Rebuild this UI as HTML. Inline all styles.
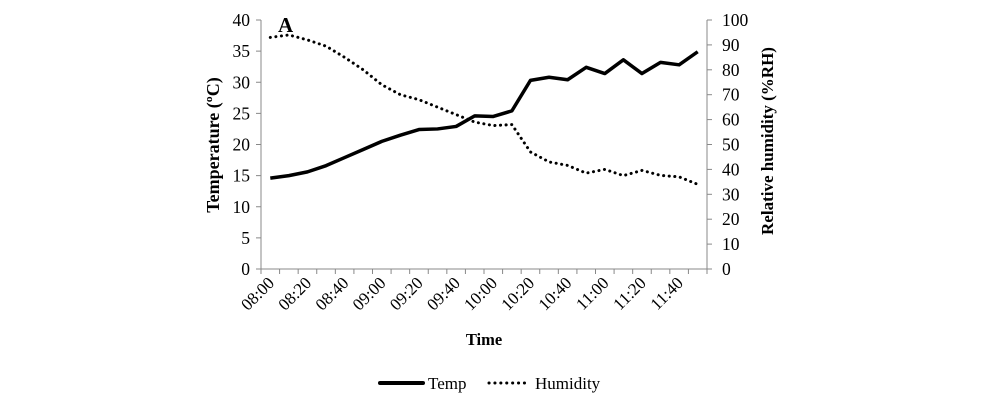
<!DOCTYPE html>
<html><head><meta charset="utf-8"><style>
body{margin:0;background:#fff;}
svg text{font-family:"Liberation Serif","DejaVu Serif",serif;fill:#000;}
</style></head><body>
<svg id="chart" width="997" height="400">
<g id="axes"></g><g id="marks"></g>
</svg>
<script>
const categories=["08:00","08:10","08:20","08:30","08:40","08:50","09:00","09:10","09:20","09:30","09:40","09:50","10:00","10:10","10:20","10:30","10:40","10:50","11:00","11:10","11:20","11:30","11:40","11:50"];
const tempValues=[14.6,15.0,15.6,16.6,17.9,19.2,20.5,21.5,22.4,22.5,22.9,24.6,24.5,25.4,30.3,30.8,30.4,32.4,31.4,33.6,31.4,33.2,32.8,34.9];
const humidityValues=[93,94,92,89.5,85,80,74,70,68,65,62,59,57.6,58,47,43,41.6,38.5,40,37.5,39.6,37.6,37,34];
const leftTicks=[0,5,10,15,20,25,30,35,40];
const rightTicks=[0,10,20,30,40,50,60,70,80,90,100];

const NS="http://www.w3.org/2000/svg";
const X0=261,X1=707,Y0=269,Y1=20;
const step=(X1-X0)/categories.length;
const xPos=i=>X0+step*(i+0.5);
const yL=v=>Y0-(v/40)*(Y0-Y1);
const yR=v=>Y0-(v/100)*(Y0-Y1);
const ax=document.getElementById('axes'),mk=document.getElementById('marks');
function el(tag,attrs,parent,txt){const e=document.createElementNS(NS,tag);for(const k in attrs)e.setAttribute(k,attrs[k]);if(txt!==undefined)e.textContent=txt;parent.appendChild(e);return e;}

let e;
e=el('line',{x1:X0,y1:Y1,x2:X0,y2:Y0,stroke:'#888','stroke-width':1},ax);


e=el('line',{x1:X1,y1:Y1,x2:X1,y2:Y0,stroke:'#888','stroke-width':1},ax);


e=el('line',{x1:X0,y1:Y0,x2:X1,y2:Y0,stroke:'#888','stroke-width':1},ax);


leftTicks.forEach(v=>{
 el('line',{x1:X0-5,y1:yL(v),x2:X0,y2:yL(v),stroke:'#888'},ax);
 e=el('text',{x:X0-11,y:yL(v)+6,'text-anchor':'end','font-size':17.5},ax,String(v));
 
 
});
rightTicks.forEach(v=>{
 el('line',{x1:X1,y1:yR(v),x2:X1+5,y2:yR(v),stroke:'#888'},ax);
 e=el('text',{x:X1+15,y:yR(v)+6,'text-anchor':'start','font-size':17.5},ax,String(v));
 
 
});
for(let i=0;i<=categories.length;i++){el('line',{x1:X0+step*i,y1:Y0,x2:X0+step*i,y2:Y0+5,stroke:'#888'},ax);}
categories.forEach((c,i)=>{
 if(i%2) return;
 const x=xPos(i)+5,y=Y0+15;
 e=el('text',{x:x,y:y,'text-anchor':'end','font-size':17,transform:`rotate(-45 ${x} ${y})`},ax,c);
 
 
});
e=el('text',{x:484,y:345,'text-anchor':'middle','font-size':16.5,'font-weight':'bold'},ax,'Time');


e=el('text',{x:219,y:145,'text-anchor':'middle','font-size':18,'font-weight':'bold',transform:'rotate(-90 219 145)'},ax,'Temperature (ºC)');


e=el('text',{x:773,y:141,'text-anchor':'middle','font-size':17,'font-weight':'bold',transform:'rotate(-90 773 141)'},ax,'Relative humidity (%RH)');


e=el('text',{x:278,y:32,'text-anchor':'start','font-size':21,'font-weight':'bold'},ax,'A');



e=el('polyline',{points:humidityValues.map((v,i)=>xPos(i)+','+yR(v)).join(' '),fill:'none',stroke:'#000','stroke-width':3,'stroke-dasharray':'0.1 5.5','stroke-linecap':'round'},mk);


e=el('polyline',{points:tempValues.map((v,i)=>xPos(i)+','+yL(v)).join(' '),fill:'none',stroke:'#000','stroke-width':3.5,'stroke-linejoin':'round'},mk);



const lg=el('g',{},mk);


e=el('line',{x1:380,y1:383,x2:423,y2:383,stroke:'#000','stroke-width':4,'stroke-linecap':'round'},lg);


e=el('text',{x:428,y:389,'font-size':17},lg,'Temp');


e=el('line',{x1:489,y1:383,x2:530,y2:383,stroke:'#000','stroke-width':3,'stroke-dasharray':'0.1 5.8','stroke-linecap':'round'},lg);


e=el('text',{x:535,y:389,'font-size':17},lg,'Humidity');


</script>
</body></html>
